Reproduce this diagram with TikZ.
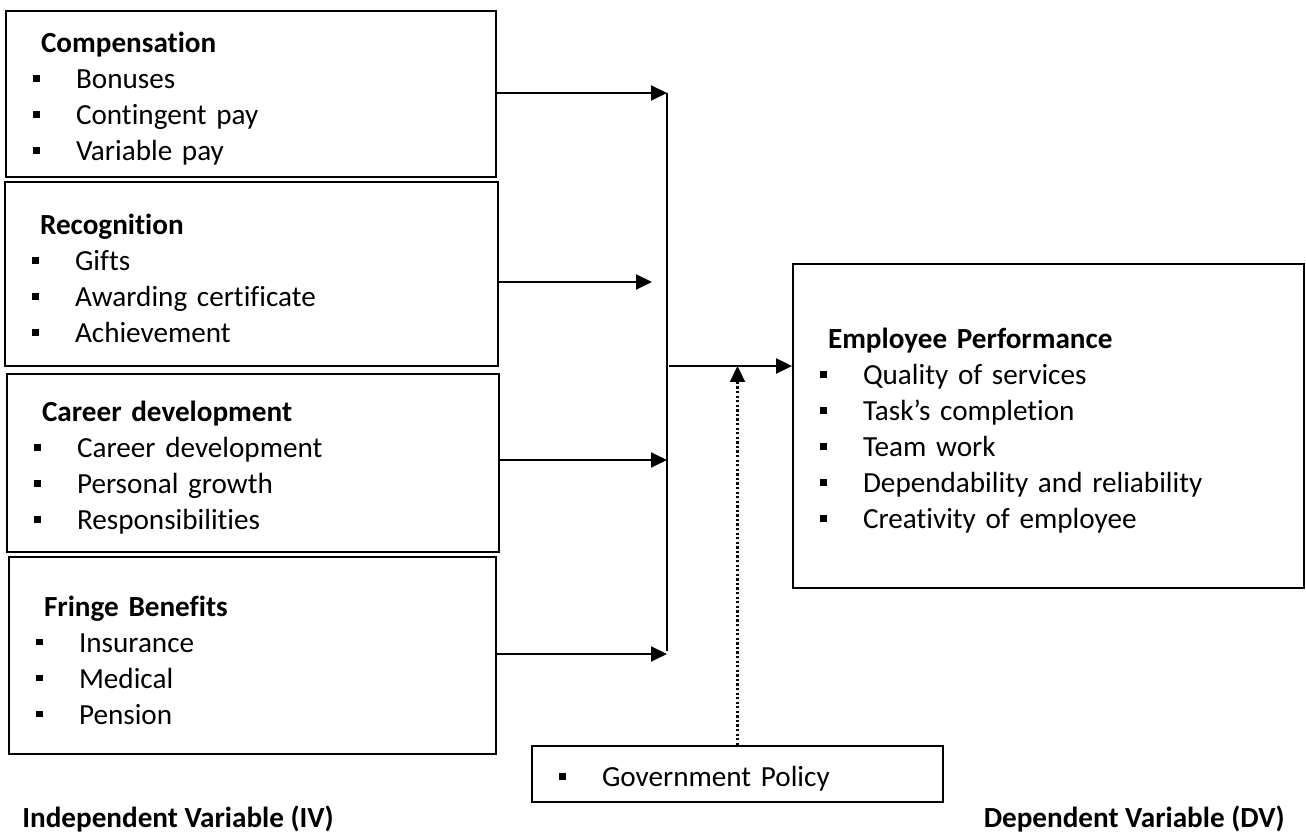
\documentclass[tikz,border=0pt]{standalone}
\usepackage{fontspec}
\setmainfont{Carlito}[Ligatures=NoCommon]
\usetikzlibrary{arrows.meta,positioning}
\newcommand{\bul}{\rule[0.14cm]{0.13cm}{0.13cm}}
\newcommand{\itm}[1]{\makebox[0.86cm][l]{\bul}#1}
\tikzset{
  varbox/.style={draw,line width=1.1pt,align=left,inner xsep=0.54cm,inner ysep=0pt,text height=0.6cm,font=\fontsize{16.6}{20.5}\selectfont},
  arr/.style={-{Triangle[length=0.32cm,width=0.3cm]},line width=1.1pt},
  head/.style={font=\fontsize{16.6}{20}\selectfont\bfseries,inner sep=0pt}
}

\begin{document}
\begin{tikzpicture}[x=0.02cm,y=-0.02cm]
\useasboundingbox (0,0) rectangle (1306,834);
% independent variables
\node[varbox,text width=8.72cm,minimum height=3.32cm] (comp) at (251,94) {\hspace*{0.16cm}\textbf{Compensation}\\ \itm{Bonuses}\\ \itm{Contingent pay}\\ \itm{Variable pay}};
\node[varbox,text width=8.78cm,minimum height=3.68cm] (recog) at (251.5,274) {\hspace*{0.16cm}\textbf{Recognition}\\ \itm{Gifts}\\ \itm{Awarding certificate}\\ \itm{Achievement}};
\node[varbox,text width=8.76cm,minimum height=3.56cm] (career) at (253,463) {\hspace*{0.16cm}\textbf{Career development}\\ \itm{Career development}\\ \itm{Personal growth}\\ \itm{Responsibilities}};
\node[varbox,text width=8.66cm,minimum height=3.94cm] (fringe) at (252.5,655.5) {\hspace*{0.16cm}\textbf{Fringe Benefits}\\ \itm{Insurance}\\ \itm{Medical}\\ \itm{Pension}};
% dependent variable and moderator
\node[varbox,text width=9.14cm,minimum height=6.48cm] (perf) at (1048.5,426) {\hspace*{0.16cm}\textbf{Employee Performance}\\ \itm{Quality of services}\\ \itm{Task’s completion}\\ \itm{Team work}\\ \itm{Dependability and reliability}\\ \itm{Creativity of employee}};
\node[varbox,text width=7.14cm,minimum height=1.12cm] (gov) at (737.5,774) {\itm{Government Policy}};
\node[head,anchor=base west] (iv) at (22,827) {Independent Variable (IV)};
\node[head,anchor=base east] (dv) at (1285,827) {Dependent Variable (DV)};
% connectors
\coordinate (t1) at (667,93); \coordinate (t2) at (652,282);
\coordinate (t3) at (667,460); \coordinate (t4) at (667,654);
\coordinate (bus) at (667,651); \coordinate (join) at (669,366);
\draw[arr] (t1 -| comp.east) -- (t1);
\draw[arr] (t2 -| recog.east) -- (t2);
\draw[arr] (t3 -| career.east) -- (t3);
\draw[arr] (t4 -| fringe.east) -- (t4);
\draw[line width=0.8pt] (t1) -- (bus);
\draw[arr] (join) -- (join -| perf.west);
\draw[arr,line width=1.3pt,dash pattern=on 1.3pt off 1.3pt] (gov.north) -- (gov.north |- join);
\end{tikzpicture}
\end{document}
